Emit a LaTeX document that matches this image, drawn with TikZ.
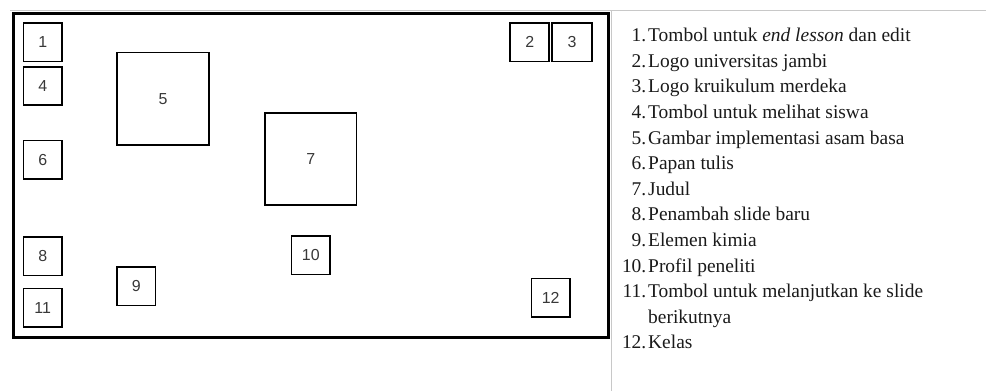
\documentclass[tikz,border=0pt]{standalone}
\usepackage{fontspec}
\setmainfont{Liberation Serif}
\newfontfamily\boxfont{Liberation Sans}
\definecolor{numgray}{HTML}{383838}
\definecolor{txtgray}{HTML}{1A1A1A}
\definecolor{rulegray}{HTML}{C8C8C8}
\begin{document}
\begin{tikzpicture}[x=1bp,y=-1bp,
  slot/.style={draw=black, line width=1.7bp, minimum width=38.5bp, minimum height=38.5bp,
    inner sep=0pt, font=\boxfont\fontsize{16}{19}\selectfont, text=numgray},
  bigslot/.style={slot, minimum width=92bp, minimum height=92bp},
  itemtxt/.style={inner sep=0pt, font=\fontsize{19.5}{23}\selectfont, text=txtgray, anchor=base west},
  itemnum/.style={inner sep=0pt, font=\fontsize{19.5}{23}\selectfont, text=txtgray, anchor=base east}]
\useasboundingbox (0,0) rectangle (986,391);
\fill[white] (0,0) rectangle (986,391);
% light table rules
\draw[rulegray, line width=1bp] (10,10.5) -- (986,10.5);
\draw[rulegray, line width=1bp] (611,10.5) -- (611,391);
% slide frame
\draw[black, line width=3bp] (13,13) rectangle (608,337);
% layout slots
\node[slot] (b1) at (42.7,42.3) {1};
\node[slot] (b4) at (42.7,86) {4};
\node[slot] (b6) at (42.7,159.7) {6};
\node[slot] (b8) at (42.7,256.3) {8};
\node[slot] (b11) at (42.7,307.7) {11};
\node[bigslot, minimum width=92.5bp, minimum height=92.7bp] (b5) at (163,98.8) {5};
\node[bigslot, minimum width=91.7bp, minimum height=92bp] (b7) at (310.7,159.2) {7};
\node[slot] (b9) at (136.3,286.3) {9};
\node[slot] (b10) at (310.8,255.3) {10};
\node[slot, minimum width=39bp] (b2) at (529.7,42.3) {2};
\node[slot, minimum width=39.5bp] (b3) at (572,42.3) {3};
\node[slot] (b12) at (550.7,297.7) {12};
% legend
\node[itemnum] (n1) at (646.5,41.7) {1.};
\node[itemtxt] (t1) at (648,41.7) {Tombol untuk \textit{end lesson} dan edit};
\node[itemnum] (n2) at (646.5,67.3) {2.};
\node[itemtxt] (t2) at (648,67.3) {Logo universitas jambi};
\node[itemnum] (n3) at (646.5,92.9) {3.};
\node[itemtxt] (t3) at (648,92.9) {Logo kruikulum merdeka};
\node[itemnum] (n4) at (646.5,118.5) {4.};
\node[itemtxt] (t4) at (648,118.5) {Tombol untuk melihat siswa};
\node[itemnum] (n5) at (646.5,144.1) {5.};
\node[itemtxt] (t5) at (648,144.1) {Gambar implementasi asam basa};
\node[itemnum] (n6) at (646.5,169.7) {6.};
\node[itemtxt] (t6) at (648,169.7) {Papan tulis};
\node[itemnum] (n7) at (646.5,195.3) {7.};
\node[itemtxt] (t7) at (648,195.3) {Judul};
\node[itemnum] (n8) at (646.5,220.9) {8.};
\node[itemtxt] (t8) at (648,220.9) {Penambah slide baru};
\node[itemnum] (n9) at (646.5,246.5) {9.};
\node[itemtxt] (t9) at (648,246.5) {Elemen kimia};
\node[itemnum] (n10) at (646.5,272.1) {10.};
\node[itemtxt] (t10) at (648,272.1) {Profil peneliti};
\node[itemnum] (n11) at (646.5,297.7) {11.};
\node[itemtxt] (t11) at (648,297.7) {Tombol untuk melanjutkan ke slide};
\node[itemtxt] (t11b) at (648,323.3) {berikutnya};
\node[itemnum] (n12) at (646.5,348.9) {12.};
\node[itemtxt] (t12) at (648,348.9) {Kelas};
\end{tikzpicture}
\end{document}
